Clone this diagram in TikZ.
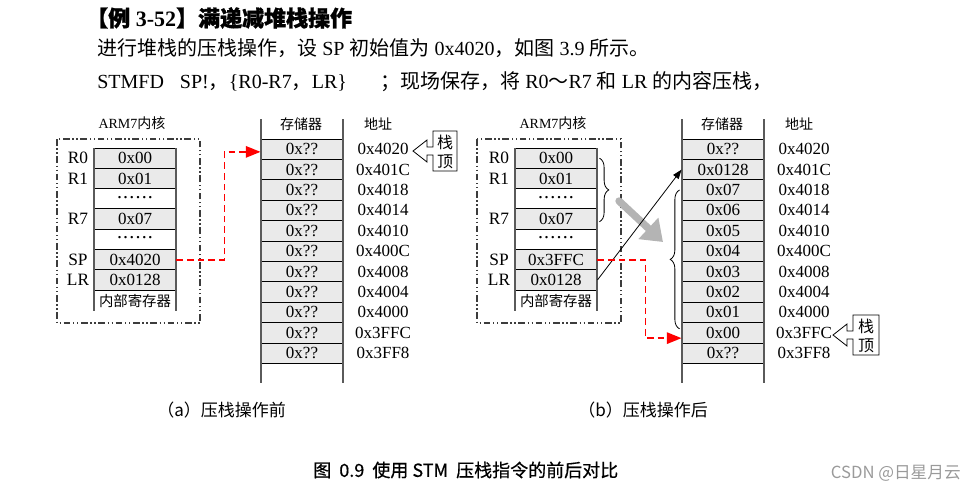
\documentclass[tikz,border=0pt]{standalone}
\usepackage{fontspec}
\setmainfont{Liberation Serif}
\setsansfont{Liberation Sans}
\newfontfamily\cjk{Noto Sans CJK SC}
\newfontfamily\cjkbold[FakeBold=1.2]{Noto Sans CJK SC}
\newfontfamily\cjkmid[FakeBold=0.6]{Noto Sans CJK SC}
\usetikzlibrary{arrows.meta, decorations.pathreplacing}
\definecolor{color_cell}{HTML}{EAEAEA}
\definecolor{color_side}{HTML}{5A5A5A}
\definecolor{color_frame}{HTML}{3C3C3C}
\definecolor{color_push}{HTML}{B4B4B4}
\definecolor{color_link}{HTML}{FF0000}
\definecolor{color_mark}{HTML}{9A9A9A}
\newcommand{\regdots}{\raisebox{2.5pt}{\fontsize{15}{15}\selectfont.\kern0.9pt.\kern0.9pt.\kern0.9pt.\kern0.9pt.\kern0.9pt.}}
\tikzset{
  reg_cell/.style={draw=black, line width=0.7pt, minimum width=61.5pt, minimum height=15.25pt, inner sep=0pt, font=\fontsize{12.75}{14}\selectfont},
  column_side/.style={draw=color_side, line width=1.3pt},
  core_frame/.style={draw=color_frame, line width=0.8pt, dash pattern=on 5pt off 2pt on 1pt off 2pt on 1pt off 2pt},
  reg_label/.style={inner sep=0pt, font=\fontsize{13}{14}\selectfont},
  head_label/.style={inner sep=0pt, font=\fontsize{10.5}{12}\selectfont},
  addr_label/.style={inner sep=0pt, font=\fontsize{12.75}{14}\selectfont},
  text_line/.style={anchor=west, inner sep=0pt, font=\fontsize{15}{18}\selectfont},
  cap_label/.style={anchor=west, inner sep=0pt, font=\cjk\fontsize{12.75}{14}\selectfont},
  mark_box/.style={draw=black, line width=0.6pt, fill=white},
  mark_text/.style={inner sep=0pt, align=center, font=\cjk\fontsize{12}{14}\selectfont},
  link_arrow/.style={draw=color_link, line width=1.4pt, dash pattern=on 5pt off 3pt, -{Triangle[length=11pt, width=8.5pt]}},
  data_arrow/.style={draw=black, line width=0.6pt, -{Triangle[length=7pt, width=5pt]}},
  push_arrow/.style={draw=color_push, line width=5.5pt, line cap=round, -{Triangle[length=15pt, width=21pt]}},
  brace_mark/.style={draw=black, line width=0.6pt, decorate, decoration={brace, amplitude=7pt}},
}

\begin{document}
\begin{tikzpicture}[x=0.75pt, y=-0.75pt]
  \useasboundingbox (0,0) rectangle (975,494);
  % heading text
  \node[text_line, font=\fontsize{16.5}{18}\selectfont\bfseries] (title) at (86,18) {{\cjkbold 【例} 3-52{\cjkbold 】满递减堆栈操作}};
  \node[text_line] (line_two) at (97,48) {{\cjk 进行堆栈的压栈操作，设} SP {\cjk 初始值为} 0x4020{\cjk ，如图} 3.9 {\cjk 所示。}};
  \node[text_line] (line_three) at (97,82) {STMFD\hspace{12pt}SP!{\cjk ，}\{R0-R7{\cjk ，}LR\}\hspace{25pt}{\cjk ；现场保存，将} R0{\cjk ～}R7 {\cjk 和} LR {\cjk 的内容压栈，}};

  % (a) before the push
  \draw[core_frame] (57,139) rectangle (200,323);
  \node[head_label] (corea) at (132,123) {ARM7{\cjk 内核}};
  \foreach \val/\shade [count=\i] in {0x00/color_cell, 0x01/color_cell, \regdots/white, 0x07/color_cell, \regdots/white, 0x4020/color_cell, 0x0128/color_cell}
    \node[reg_cell, fill=\shade] (rega_\i) at (135, 137.85+20.3*\i) {\val};
  \node[head_label, font=\cjk\fontsize{10.8}{12}\selectfont] (rega_8) at (135,301) {内部寄存器};
  \foreach \lab/\i in {R0/1, R1/2, R7/4, SP/6, LR/7}
    \node[reg_label] (laba_\lab) at (78, 137.85+20.3*\i) {\lab};
  \draw[column_side] (94,148) -- (94,311) (176,148) -- (176,311);
  \node[head_label, font=\cjk\fontsize{10.5}{12}\selectfont] (stora) at (301,124) {存储器};
  \node[head_label, font=\cjk\fontsize{10.5}{12}\selectfont] (addra) at (378,124) {地址};
  \foreach \addr [count=\i] in {0x4020, 0x401C, 0x4018, 0x4014, 0x4010, 0x400C, 0x4008, 0x4004, 0x4000, 0x3FFC, 0x3FF8} {
    \node[reg_cell, fill=color_cell] (mema_\i) at (302, 128.8+20.4*\i) {0x??};
    \node[addr_label] (adra_\i) at (383, 128.8+20.4*\i) {\addr};
  }
  \draw[column_side] (261,119) -- (261,383) (343,119) -- (343,383);
  \draw[mark_box] (413,151) -- ++(14,-11) -- ++(0,7) -- ++(6,0) -- ++(0,-16) -- ++(24,0) -- ++(0,40) -- ++(-24,0) -- ++(0,-16) -- ++(-6,0) -- ++(0,7) -- cycle;
  \node[mark_text] (topa) at (445,152) {栈\\顶};
  \draw[link_arrow] (rega_6.east) -- ++(48,0) |- ([yshift=-2pt]mema_1.west);
  \node[cap_label] (capa) at (157,410) {（a）压栈操作前};

  % (b) after the push
  \begin{scope}[shift={(421,0)}]
    \draw[core_frame] (56,139) rectangle (200,323);
    \node[head_label] (coreb) at (132,123) {ARM7{\cjk 内核}};
    \foreach \val/\shade [count=\i] in {0x00/color_cell, 0x01/color_cell, \regdots/white, 0x07/color_cell, \regdots/white, 0x3FFC/color_cell, 0x0128/color_cell}
      \node[reg_cell, fill=\shade] (regb_\i) at (135, 137.85+20.3*\i) {\val};
    \node[head_label, font=\cjk\fontsize{10.8}{12}\selectfont] (regb_8) at (135,301) {内部寄存器};
    \foreach \lab/\i in {R0/1, R1/2, R7/4, SP/6, LR/7}
      \node[reg_label] (labb_\lab) at (78, 137.85+20.3*\i) {\lab};
    \draw[column_side] (94,148) -- (94,311) (176,148) -- (176,311);
    \node[head_label, font=\cjk\fontsize{10.5}{12}\selectfont] (storb) at (301,124) {存储器};
    \node[head_label, font=\cjk\fontsize{10.5}{12}\selectfont] (addrb) at (378,124) {地址};
    \foreach \val/\addr [count=\i] in {0x??/0x4020, 0x0128/0x401C, 0x07/0x4018, 0x06/0x4014, 0x05/0x4010, 0x04/0x400C, 0x03/0x4008, 0x02/0x4004, 0x01/0x4000, 0x00/0x3FFC, 0x??/0x3FF8} {
      \node[reg_cell, fill=color_cell] (memb_\i) at (302, 128.8+20.4*\i) {\val};
      \node[addr_label] (adrb_\i) at (383, 128.8+20.4*\i) {\addr};
    }
    \draw[column_side] (261,119) -- (261,383) (343,119) -- (343,383);
    \draw[mark_box] (412,335) -- ++(14,-11) -- ++(0,7) -- ++(6,0) -- ++(0,-16) -- ++(26,0) -- ++(0,40) -- ++(-26,0) -- ++(0,-16) -- ++(-6,0) -- ++(0,7) -- cycle;
    \node[mark_text] (topb) at (445,336) {栈\\顶};
    % braces and the push arrow
    \draw[brace_mark] ([xshift=1.5pt]regb_1.east) -- ([xshift=1.5pt, yshift=-2pt]regb_4.east);
    \draw[brace_mark] ([xshift=-1.5pt, yshift=-5pt]memb_10.north west) -- ([xshift=-1.5pt]memb_3.west);
    \coordinate (push_from) at (198,201);
    \coordinate (push_to) at (242,242);
    \draw[push_arrow] (push_from) -- (push_to);
    \draw[data_arrow] (regb_7.east) -- (memb_2.west);
    \draw[link_arrow] (regb_6.east) -- ++(48,0) |- ([yshift=-4pt]memb_10.west);
    \node[cap_label] (capb) at (157,410) {（b）压栈操作后};
  \end{scope}

  % figure caption
  \node[anchor=west, inner sep=0pt, font=\cjkmid\fontsize{13.5}{15}\selectfont] (figcap) at (313,470) {图\ \ 0.9\ \ 使用 STM\ \ 压栈指令的前后对比};
  \node[anchor=east, inner sep=0pt, text=color_mark, font=\cjk\fontsize{12.5}{14}\selectfont] (wmark) at (961,473) {CSDN @日星月云};
\end{tikzpicture}
\end{document}
